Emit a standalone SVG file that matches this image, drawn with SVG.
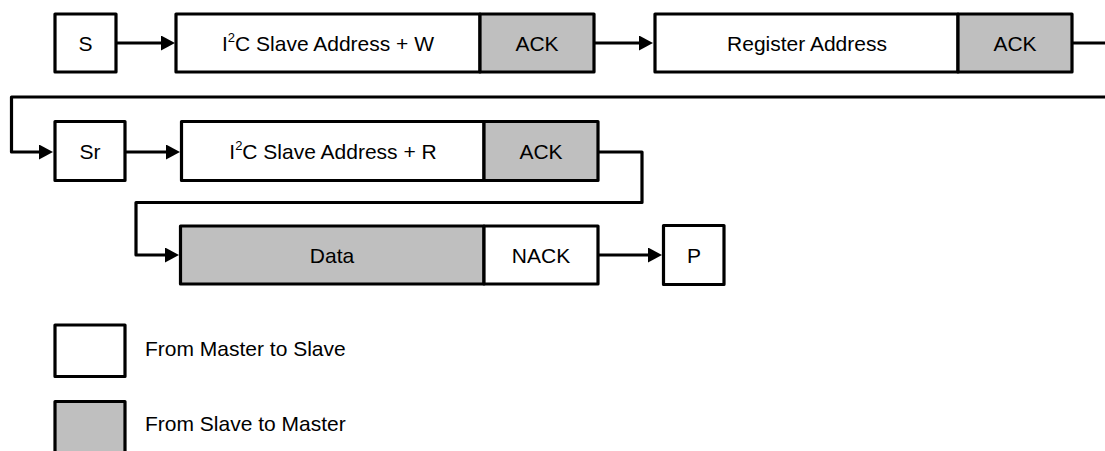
<svg xmlns="http://www.w3.org/2000/svg" width="1105" height="451" viewBox="0 0 1105 451">
<style>
.box{fill:#ffffff;stroke:#000;stroke-width:3.2;stroke-linejoin:round}
.gray{fill:#bfbfbf;stroke:#000;stroke-width:3.2;stroke-linejoin:round}
.div{stroke:#000;stroke-width:3}
.lbl{font-family:"Liberation Sans",Arial,sans-serif;font-size:21px;fill:#000;text-anchor:middle}
.leg{font-family:"Liberation Sans",Arial,sans-serif;font-size:21px;fill:#000}
.sup{font-size:13px}
.conn{fill:none;stroke:#000;stroke-width:3.2;stroke-linejoin:round}
</style>
<defs>
<marker id="arr" markerUnits="userSpaceOnUse" markerWidth="14" markerHeight="15" refX="9" refY="7.5" orient="auto" viewBox="0 0 14 15">
<path d="M0,0 L14,7.5 L0,15 z" fill="#000"/>
</marker>
</defs>
<rect width="1105" height="451" fill="#ffffff"/>
<g id="connectors">
<path class="conn" d="M116.5,43 H170" marker-end="url(#arr)"/>
<path class="conn" d="M594,43 H648" marker-end="url(#arr)"/>
<path class="conn" d="M1072,43 H1112 V97 H11.5 V152 H48" marker-end="url(#arr)"/>
<path class="conn" d="M125,152 H175" marker-end="url(#arr)"/>
<path class="conn" d="M598,152 H642 V202.5 H136 V255 H174" marker-end="url(#arr)"/>
<path class="conn" d="M598,255 H657" marker-end="url(#arr)"/>
</g>
<g id="node-s">
<rect class="box" x="55" y="14" width="61" height="58"/>
<text class="lbl" x="85.5" y="51">S</text>
</g>
<g id="node-addr-w">
<rect class="box" x="176" y="14" width="304" height="58"/>
<text class="lbl" x="328" y="51">I<tspan class="sup" dy="-9">2</tspan><tspan dy="9">C Slave Address + W</tspan></text>
</g>
<g id="node-ack1">
<rect class="gray" x="480" y="14" width="114" height="58"/>
<text class="lbl" x="537" y="51">ACK</text>
</g>
<g id="node-reg">
<rect class="box" x="655" y="14" width="303" height="58"/>
<text class="lbl" x="807" y="51">Register Address</text>
</g>
<g id="node-ack2">
<rect class="gray" x="958" y="14" width="114" height="58"/>
<text class="lbl" x="1015" y="51">ACK</text>
</g>
<g id="node-sr">
<rect class="box" x="55" y="121.5" width="70" height="59"/>
<text class="lbl" x="90" y="159">Sr</text>
</g>
<g id="node-addr-r">
<rect class="box" x="181.5" y="121.5" width="302.5" height="59"/>
<text class="lbl" x="333" y="159">I<tspan class="sup" dy="-9">2</tspan><tspan dy="9">C Slave Address + R</tspan></text>
</g>
<g id="node-ack3">
<rect class="gray" x="484" y="121.5" width="114" height="59"/>
<text class="lbl" x="541" y="159">ACK</text>
</g>
<g id="node-data">
<rect class="gray" x="180.5" y="226" width="303.5" height="58"/>
<text class="lbl" x="332" y="263">Data</text>
</g>
<g id="node-nack">
<rect class="box" x="484" y="226" width="114" height="58"/>
<text class="lbl" x="541" y="263">NACK</text>
</g>
<g id="node-p">
<rect class="box" x="663.5" y="225.5" width="60.5" height="59"/>
<text class="lbl" x="694" y="263">P</text>
</g>
<g id="legend-m2s">
<rect class="box" x="55" y="325" width="70" height="51.5"/>
<text class="leg" x="145" y="356">From Master to Slave</text>
</g>
<g id="legend-s2m">
<rect class="gray" x="55" y="401.5" width="70" height="60"/>
<text class="leg" x="145" y="431">From Slave to Master</text>
</g>
</svg>
